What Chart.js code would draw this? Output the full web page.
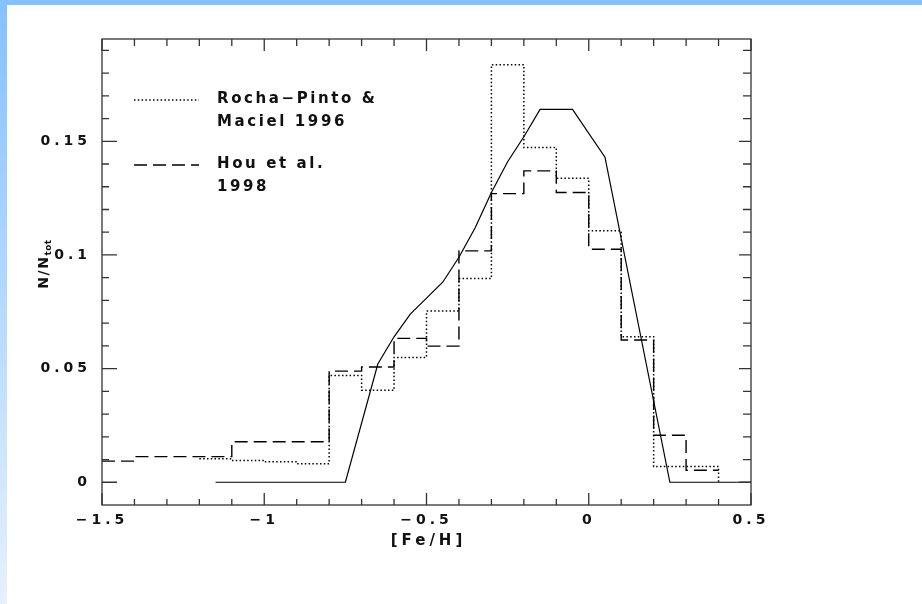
<!DOCTYPE html>
<html lang="en">
<head>
<meta charset="UTF-8">
<title>[Fe/H] distribution</title>
<script src="https://cdn.jsdelivr.net/npm/chart.js@4"></script>
<style>
  html, body { margin: 0; padding: 0; background: #fff; }
  #wrap { position: relative; width: 922px; height: 604px; overflow: hidden; }
  #topBar { position: absolute; left: 0; top: 0; width: 922px; height: 5px; background: #85c1ff; }
  #leftBar { position: absolute; left: 0; top: 0; width: 7px; height: 604px; background: linear-gradient(#85c1ff, #e6f1ff); }
  canvas { position: absolute; left: 0; top: 0; }
</style>
</head>
<body>
<div id="wrap">
  <div id="topBar"></div>
  <div id="leftBar"></div>
  <canvas id="feh" width="922" height="604"></canvas>
</div>
<script>
  // histogram bins (left edges, width 0.1 dex)
  const binEdges = [-1.5, -1.4, -1.3, -1.2, -1.1, -1.0, -0.9, -0.8, -0.7, -0.6, -0.5, -0.4, -0.3, -0.2, -0.1, 0.0, 0.1, 0.2, 0.3];
  const binWidth = 0.1;
  const houValues = [0.0093, 0.0113, 0.0113, 0.0113, 0.0178, 0.0178, 0.0178, 0.0489, 0.0507, 0.0633, 0.0599, 0.1018, 0.127, 0.137, 0.1275, 0.1025, 0.0626, 0.0207, 0.0053];
  const rochaValues = [null, null, null, 0.0103, 0.0096, 0.0090, 0.0082, 0.047, 0.0405, 0.0549, 0.0753, 0.0896, 0.1837, 0.1473, 0.1337, 0.1106, 0.064, 0.0069, 0.0069];

  // model curve
  const modelX = [-1.15, -0.75, -0.65, -0.6, -0.55, -0.5, -0.45, -0.4, -0.35, -0.3, -0.25, -0.2, -0.15, -0.05, 0.05, 0.25, 0.5];
  const modelY = [0, 0, 0.052, 0.064, 0.074, 0.081, 0.088, 0.099, 0.112, 0.1275, 0.141, 0.152, 0.164, 0.164, 0.143, 0, 0];

  const rochaLabel = ['Rocha\u2212Pinto &', 'Maciel 1996'];
  const houLabel = ['Hou et al.', '1998'];

  const FONT = '"DejaVu Sans", "Liberation Sans", sans-serif';
  const INK = '#111';

  function stepPoints(values, dropToZero) {
    const pts = [];
    let last = -1;
    values.forEach((v, i) => {
      if (v !== null) { pts.push({ x: binEdges[i], y: v }); last = i; }
    });
    const end = binEdges[last] + binWidth;
    pts.push({ x: end, y: values[last] });
    if (dropToZero) pts.push({ x: end, y: 0 });
    return pts;
  }

  function fmt(v) {
    const s = String(Math.round(v * 1000) / 1000);
    return s.replace('-', '\u2212');
  }

  const frameAndLegend = {
    id: 'frameAndLegend',
    beforeDraw(chart) {
      chart.ctx.letterSpacing = '4px';
    },
    afterDraw(chart) {
      const { ctx, chartArea: a, scales: { x, y } } = chart;
      ctx.save();
      ctx.strokeStyle = '#333';
      ctx.lineWidth = 1.3;
      ctx.setLineDash([]);
      ctx.strokeRect(a.left, a.top, a.right - a.left, a.bottom - a.top);

      // inward ticks on all four sides
      ctx.beginPath();
      for (let i = 0; i <= 20; i++) {
        const px = x.getPixelForValue(-1.5 + i * 0.1);
        const major = i % 5 === 0;
        ctx.moveTo(px, a.bottom); ctx.lineTo(px, a.bottom - (major ? 12 : 6));
        ctx.moveTo(px, a.top); ctx.lineTo(px, a.top + (major ? 12 : 7));
      }
      for (let i = 0; i <= 19; i++) {
        const py = y.getPixelForValue(i * 0.01);
        const major = i % 5 === 0;
        ctx.moveTo(a.left, py); ctx.lineTo(a.left + (major ? 15 : 7), py);
        ctx.moveTo(a.right, py); ctx.lineTo(a.right - (major ? 12 : 8), py);
      }
      ctx.stroke();

      // legend inside the frame
      const ds = chart.data.datasets;
      const lx0 = a.left + 32, lx1 = a.left + 97, tx = a.left + 115;
      ctx.lineWidth = 1.3;
      ctx.strokeStyle = '#000';
      [[ds[1], 61, rochaLabel], [ds[2], 126, houLabel]].forEach(([d, dy, lines]) => {
        ctx.setLineDash(d.borderDash);
        ctx.beginPath();
        ctx.moveTo(lx0, a.top + dy); ctx.lineTo(lx1, a.top + dy);
        ctx.stroke();
        ctx.setLineDash([]);
        ctx.fillStyle = INK;
        ctx.font = 'bold 15px ' + FONT;
        ctx.letterSpacing = '2.6px';
        ctx.textAlign = 'left';
        ctx.textBaseline = 'alphabetic';
        lines.forEach((t, k) => ctx.fillText(t, tx, a.top + dy + 3 + k * 23));
      });

      // axis titles
      ctx.letterSpacing = '4px';
      ctx.font = 'bold 15px ' + FONT;
      ctx.textAlign = 'center';
      ctx.textBaseline = 'middle';
      ctx.fillText('[Fe/H]', (a.left + a.right) / 2 + 2, 541);

      ctx.translate(48, 264);
      ctx.rotate(-Math.PI / 2);
      ctx.letterSpacing = '1.5px';
      ctx.font = 'bold 14px ' + FONT;
      const w1 = ctx.measureText('N/N').width;
      ctx.font = 'bold 9px ' + FONT;
      ctx.letterSpacing = '0.5px';
      const w2 = ctx.measureText('tot').width;
      const start = -(w1 + w2) / 2;
      ctx.textAlign = 'left';
      ctx.textBaseline = 'alphabetic';
      ctx.font = 'bold 14px ' + FONT;
      ctx.letterSpacing = '1.5px';
      ctx.fillText('N/N', start, 0);
      ctx.font = 'bold 9px ' + FONT;
      ctx.letterSpacing = '0.5px';
      ctx.fillText('tot', start + w1, 3);
      ctx.restore();
    }
  };

  new Chart(document.getElementById('feh'), {
    type: 'line',
    data: {
      datasets: [
        {
          label: 'model',
          data: modelX.map((v, i) => ({ x: v, y: modelY[i] })),
          borderColor: '#000',
          borderWidth: 1.2,
          pointRadius: 0,
          tension: 0
        },
        {
          label: rochaLabel.join(' '),
          data: stepPoints(rochaValues, true),
          borderColor: '#000',
          borderWidth: 1.5,
          borderDash: [1.5, 2.3],
          pointRadius: 0,
          stepped: 'before'
        },
        {
          label: houLabel.join(' '),
          data: stepPoints(houValues, false),
          borderColor: '#000',
          borderWidth: 1.4,
          borderDash: [13, 6],
          pointRadius: 0,
          stepped: 'before'
        }
      ]
    },
    options: {
      responsive: false,
      animation: false,
      devicePixelRatio: 1,
      layout: { padding: { left: 0, top: 39, right: 171, bottom: 0 } },
      plugins: { legend: { display: false }, tooltip: { enabled: false } },
      scales: {
        x: {
          type: 'linear',
          min: -1.5,
          max: 0.5,
          grid: { display: false, drawTicks: false },
          border: { display: false },
          ticks: {
            stepSize: 0.5,
            includeBounds: false,
            autoSkip: false,
            maxRotation: 0,
            padding: 7,
            color: INK,
            font: { family: FONT, size: 14, weight: 'bold' },
            callback: fmt
          },
          afterFit: s => { s.height = 99; }
        },
        y: {
          type: 'linear',
          min: -0.01,
          max: 0.195,
          grid: { display: false, drawTicks: false },
          border: { display: false },
          ticks: {
            stepSize: 0.05,
            includeBounds: false,
            autoSkip: false,
            padding: 11,
            color: INK,
            font: { family: FONT, size: 14, weight: 'bold' },
            callback: fmt
          },
          afterFit: s => { s.width = 102; }
        }
      }
    },
    plugins: [frameAndLegend]
  });
</script>
</body>
</html>
